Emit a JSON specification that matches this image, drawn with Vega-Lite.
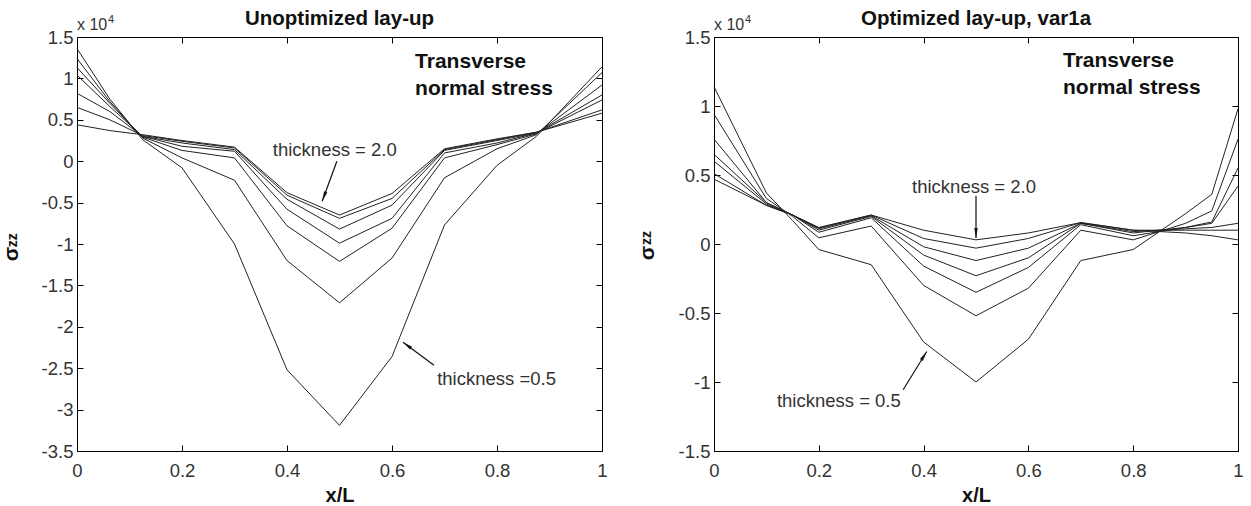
{
  "$schema": "https://vega.github.io/schema/vega-lite/v6.json",
  "autosize": {"type": "pad"},
  "padding": {"left": 0, "top": 8, "right": 0, "bottom": 0},
  "bounds": "flush",
  "spacing": 112,
  "background": "white",
  "config": {
    "view": {"stroke": "#000", "strokeWidth": 1},
    "axis": {"grid": false, "domainColor": "#000", "tickColor": "#000", "labelFont": "Liberation Sans", "labelFontSize": 18.5, "labelColor": "#333", "tickSize": -6, "labelPadding": 16, "titleFont": "Liberation Sans", "titleFontSize": 20, "titleFontWeight": "bold", "titleColor": "#111", "labelFlush": false, "labelOverlap": false},
    "title": {"font": "Liberation Sans", "fontSize": 20.5, "fontWeight": "bold", "color": "#111", "anchor": "middle", "offset": -15}
  },
  "datasets": {
    "unopt": [
      {"t":0.5,"x":0,"s":1.36},{"t":0.5,"x":0.0625,"s":0.75},{"t":0.5,"x":0.125,"s":0.26},{"t":0.5,"x":0.2,"s":-0.08},{"t":0.5,"x":0.3,"s":-1.0},{"t":0.5,"x":0.4,"s":-2.52},{"t":0.5,"x":0.5,"s":-3.19},{"t":0.5,"x":0.6,"s":-2.36},{"t":0.5,"x":0.7,"s":-0.77},{"t":0.5,"x":0.8,"s":-0.05},{"t":0.5,"x":0.875,"s":0.3},{"t":0.5,"x":1,"s":1.14},
      {"t":0.75,"x":0,"s":1.24},{"t":0.75,"x":0.0625,"s":0.72},{"t":0.75,"x":0.125,"s":0.28},{"t":0.75,"x":0.2,"s":0.04},{"t":0.75,"x":0.3,"s":-0.23},{"t":0.75,"x":0.4,"s":-1.2},{"t":0.75,"x":0.5,"s":-1.71},{"t":0.75,"x":0.6,"s":-1.17},{"t":0.75,"x":0.7,"s":-0.2},{"t":0.75,"x":0.8,"s":0.15},{"t":0.75,"x":0.875,"s":0.32},{"t":0.75,"x":1,"s":1.07},
      {"t":1.0,"x":0,"s":1.13},{"t":1.0,"x":0.0625,"s":0.7},{"t":1.0,"x":0.125,"s":0.29},{"t":1.0,"x":0.2,"s":0.13},{"t":1.0,"x":0.3,"s":0.04},{"t":1.0,"x":0.4,"s":-0.78},{"t":1.0,"x":0.5,"s":-1.21},{"t":1.0,"x":0.6,"s":-0.81},{"t":1.0,"x":0.7,"s":0.04},{"t":1.0,"x":0.8,"s":0.2},{"t":1.0,"x":0.875,"s":0.33},{"t":1.0,"x":1,"s":0.92},
      {"t":1.25,"x":0,"s":1.04},{"t":1.25,"x":0.0625,"s":0.66},{"t":1.25,"x":0.125,"s":0.3},{"t":1.25,"x":0.2,"s":0.18},{"t":1.25,"x":0.3,"s":0.12},{"t":1.25,"x":0.4,"s":-0.58},{"t":1.25,"x":0.5,"s":-0.99},{"t":1.25,"x":0.6,"s":-0.69},{"t":1.25,"x":0.7,"s":0.1},{"t":1.25,"x":0.8,"s":0.22},{"t":1.25,"x":0.875,"s":0.34},{"t":1.25,"x":1,"s":0.8},
      {"t":1.5,"x":0,"s":0.82},{"t":1.5,"x":0.0625,"s":0.6},{"t":1.5,"x":0.125,"s":0.3},{"t":1.5,"x":0.2,"s":0.22},{"t":1.5,"x":0.3,"s":0.14},{"t":1.5,"x":0.4,"s":-0.46},{"t":1.5,"x":0.5,"s":-0.82},{"t":1.5,"x":0.6,"s":-0.53},{"t":1.5,"x":0.7,"s":0.13},{"t":1.5,"x":0.8,"s":0.25},{"t":1.5,"x":0.875,"s":0.34},{"t":1.5,"x":1,"s":0.74},
      {"t":1.75,"x":0,"s":0.65},{"t":1.75,"x":0.0625,"s":0.5},{"t":1.75,"x":0.125,"s":0.31},{"t":1.75,"x":0.2,"s":0.24},{"t":1.75,"x":0.3,"s":0.16},{"t":1.75,"x":0.4,"s":-0.41},{"t":1.75,"x":0.5,"s":-0.69},{"t":1.75,"x":0.6,"s":-0.45},{"t":1.75,"x":0.7,"s":0.14},{"t":1.75,"x":0.8,"s":0.26},{"t":1.75,"x":0.875,"s":0.35},{"t":1.75,"x":1,"s":0.62},
      {"t":2.0,"x":0,"s":0.44},{"t":2.0,"x":0.0625,"s":0.37},{"t":2.0,"x":0.125,"s":0.32},{"t":2.0,"x":0.2,"s":0.25},{"t":2.0,"x":0.3,"s":0.17},{"t":2.0,"x":0.4,"s":-0.38},{"t":2.0,"x":0.5,"s":-0.65},{"t":2.0,"x":0.6,"s":-0.39},{"t":2.0,"x":0.7,"s":0.15},{"t":2.0,"x":0.8,"s":0.27},{"t":2.0,"x":0.875,"s":0.35},{"t":2.0,"x":1,"s":0.58}
    ],
    "opt": [
      {"t":0.5,"x":0,"s":1.14},{"t":0.5,"x":0.1,"s":0.37},{"t":0.5,"x":0.15,"s":0.17},{"t":0.5,"x":0.2,"s":-0.04},{"t":0.5,"x":0.3,"s":-0.15},{"t":0.5,"x":0.4,"s":-0.71},{"t":0.5,"x":0.5,"s":-1.0},{"t":0.5,"x":0.6,"s":-0.69},{"t":0.5,"x":0.7,"s":-0.12},{"t":0.5,"x":0.8,"s":-0.04},{"t":0.5,"x":0.9,"s":0.22},{"t":0.5,"x":0.95,"s":0.36},{"t":0.5,"x":1,"s":0.98},
      {"t":0.75,"x":0,"s":0.94},{"t":0.75,"x":0.1,"s":0.33},{"t":0.75,"x":0.15,"s":0.2},{"t":0.75,"x":0.2,"s":0.045},{"t":0.75,"x":0.3,"s":0.13},{"t":0.75,"x":0.4,"s":-0.3},{"t":0.75,"x":0.5,"s":-0.52},{"t":0.75,"x":0.6,"s":-0.32},{"t":0.75,"x":0.7,"s":0.1},{"t":0.75,"x":0.8,"s":0.03},{"t":0.75,"x":0.9,"s":0.15},{"t":0.75,"x":0.95,"s":0.24},{"t":0.75,"x":1,"s":0.76},
      {"t":1.0,"x":0,"s":0.76},{"t":1.0,"x":0.1,"s":0.3},{"t":1.0,"x":0.15,"s":0.21},{"t":1.0,"x":0.2,"s":0.085},{"t":1.0,"x":0.3,"s":0.19},{"t":1.0,"x":0.4,"s":-0.16},{"t":1.0,"x":0.5,"s":-0.35},{"t":1.0,"x":0.6,"s":-0.17},{"t":1.0,"x":0.7,"s":0.14},{"t":1.0,"x":0.8,"s":0.06},{"t":1.0,"x":0.9,"s":0.12},{"t":1.0,"x":0.95,"s":0.16},{"t":1.0,"x":1,"s":0.55},
      {"t":1.25,"x":0,"s":0.65},{"t":1.25,"x":0.1,"s":0.3},{"t":1.25,"x":0.15,"s":0.21},{"t":1.25,"x":0.2,"s":0.1},{"t":1.25,"x":0.3,"s":0.2},{"t":1.25,"x":0.4,"s":-0.08},{"t":1.25,"x":0.5,"s":-0.23},{"t":1.25,"x":0.6,"s":-0.1},{"t":1.25,"x":0.7,"s":0.15},{"t":1.25,"x":0.8,"s":0.08},{"t":1.25,"x":0.9,"s":0.12},{"t":1.25,"x":0.95,"s":0.15},{"t":1.25,"x":1,"s":0.42},
      {"t":1.5,"x":0,"s":0.6},{"t":1.5,"x":0.1,"s":0.29},{"t":1.5,"x":0.15,"s":0.21},{"t":1.5,"x":0.2,"s":0.11},{"t":1.5,"x":0.3,"s":0.205},{"t":1.5,"x":0.4,"s":-0.02},{"t":1.5,"x":0.5,"s":-0.12},{"t":1.5,"x":0.6,"s":-0.03},{"t":1.5,"x":0.7,"s":0.15},{"t":1.5,"x":0.8,"s":0.09},{"t":1.5,"x":0.9,"s":0.11},{"t":1.5,"x":0.95,"s":0.12},{"t":1.5,"x":1,"s":0.15},
      {"t":1.75,"x":0,"s":0.51},{"t":1.75,"x":0.1,"s":0.28},{"t":1.75,"x":0.15,"s":0.21},{"t":1.75,"x":0.2,"s":0.115},{"t":1.75,"x":0.3,"s":0.21},{"t":1.75,"x":0.4,"s":0.04},{"t":1.75,"x":0.5,"s":-0.03},{"t":1.75,"x":0.6,"s":0.04},{"t":1.75,"x":0.7,"s":0.155},{"t":1.75,"x":0.8,"s":0.1},{"t":1.75,"x":0.9,"s":0.1},{"t":1.75,"x":0.95,"s":0.1},{"t":1.75,"x":1,"s":0.1},
      {"t":2.0,"x":0,"s":0.47},{"t":2.0,"x":0.1,"s":0.28},{"t":2.0,"x":0.15,"s":0.21},{"t":2.0,"x":0.2,"s":0.12},{"t":2.0,"x":0.3,"s":0.21},{"t":2.0,"x":0.4,"s":0.1},{"t":2.0,"x":0.5,"s":0.03},{"t":2.0,"x":0.6,"s":0.08},{"t":2.0,"x":0.7,"s":0.155},{"t":2.0,"x":0.8,"s":0.1},{"t":2.0,"x":0.9,"s":0.08},{"t":2.0,"x":0.95,"s":0.06},{"t":2.0,"x":1,"s":0.03}
    ],
    "notes": [
      {"panel":"L","kind":"heading","text":"Transverse\nnormal stress","x":0.644,"y":1.123},
      {"panel":"L","kind":"thick","text":"thickness = 2.0","x":0.373,"y":0.06},
      {"panel":"L","kind":"thick","text":"thickness =0.5","x":0.686,"y":-2.705},
      {"panel":"L","kind":"exp","text":"x 10","x":0,"y":1.5},
      {"panel":"L","kind":"sup","text":"4","x":0.059,"y":1.5},
      {"panel":"L","kind":"sigma","text":"σ","x":-0.124,"y":-1.123},
      {"panel":"L","kind":"sub","text":"zz","x":-0.122,"y":-0.954},
      {"panel":"R","kind":"heading","text":"Transverse\nnormal stress","x":0.666,"y":1.28},
      {"panel":"R","kind":"thick","text":"thickness = 2.0","x":0.378,"y":0.371},
      {"panel":"R","kind":"thick","text":"thickness = 0.5","x":0.12,"y":-1.18},
      {"panel":"R","kind":"exp","text":"x 10","x":0,"y":1.5},
      {"panel":"R","kind":"sup","text":"4","x":0.059,"y":1.5},
      {"panel":"R","kind":"sigma","text":"σ","x":-0.126,"y":-0.066},
      {"panel":"R","kind":"sub","text":"zz","x":-0.128,"y":0.044}
    ],
    "arrows": [
      {"panel":"L","arrow":"a2","end":0,"x":0.495,"y":0.0},
      {"panel":"L","arrow":"a2","end":1,"x":0.467,"y":-0.483},
      {"panel":"L","arrow":"a05","end":0,"x":0.68,"y":-2.464},
      {"panel":"L","arrow":"a05","end":1,"x":0.621,"y":-2.186},
      {"panel":"R","arrow":"a2","end":0,"x":0.5,"y":0.35},
      {"panel":"R","arrow":"a2","end":1,"x":0.5,"y":0.044},
      {"panel":"R","arrow":"a05","end":0,"x":0.361,"y":-1.056},
      {"panel":"R","arrow":"a05","end":1,"x":0.406,"y":-0.779}
    ]
  },
  "hconcat": [
    {
      "width": 525,
      "height": 414,
      "title": {"text": "Unoptimized lay-up"},
      "resolve": {"axis": {"x": "independent", "y": "independent"}},
      "layer": [
        {
          "data": {"name": "unopt"},
          "mark": {"type": "line", "stroke": "#222", "strokeWidth": 1},
          "encoding": {
            "x": {"field": "x", "type": "quantitative", "scale": {"domain": [0, 1], "nice": false, "zero": false},
                  "axis": {"orient": "bottom", "values": [0, 0.2, 0.4, 0.6, 0.8, 1], "labelExpr": "format(datum.value, '')", "title": "x/L", "titlePadding": 6}},
            "y": {"field": "s", "type": "quantitative", "scale": {"domain": [-3.5, 1.5], "nice": false, "zero": false},
                  "axis": {"orient": "left", "values": [-3.5, -3, -2.5, -2, -1.5, -1, -0.5, 0, 0.5, 1, 1.5], "labelExpr": "datum.value < 0 ? '-' + format(-datum.value, '') : format(datum.value, '')", "title": null, "labelPadding": 10}},
            "detail": {"field": "t", "type": "nominal"}
          }
        },
        {
          "data": {"name": "unopt"},
          "mark": {"type": "line", "opacity": 0},
          "encoding": {
            "x": {"field": "x", "type": "quantitative", "axis": {"orient": "top", "values": [0, 0.2, 0.4, 0.6, 0.8, 1], "labels": false, "title": null}},
            "y": {"field": "s", "type": "quantitative", "axis": {"orient": "right", "values": [-3.5, -3, -2.5, -2, -1.5, -1, -0.5, 0, 0.5, 1, 1.5], "labels": false, "title": null}},
            "detail": {"field": "t", "type": "nominal"}
          }
        },
        {
          "data": {"name": "arrows"},
          "transform": [{"filter": "datum.panel == 'L'"}],
          "mark": {"type": "line", "stroke": "#111", "strokeWidth": 1.2},
          "encoding": {
            "x": {"field": "x", "type": "quantitative", "axis": null},
            "y": {"field": "y", "type": "quantitative", "axis": null},
            "detail": {"field": "arrow", "type": "nominal"},
            "order": {"field": "end", "type": "quantitative"}
          }
        },
        {
          "data": {"name": "arrows"},
          "transform": [{"filter": "datum.panel == 'L' && datum.arrow == 'a2' && datum.end == 1"}],
          "mark": {"type": "point", "shape": "M-0.35,-2L0.35,-2L0,0Z", "filled": true, "fill": "#111", "strokeWidth": 0, "size": 100, "angle": 20.6, "opacity": 1},
          "encoding": {"x": {"field": "x", "type": "quantitative", "axis": null}, "y": {"field": "y", "type": "quantitative", "axis": null}}
        },
        {
          "data": {"name": "arrows"},
          "transform": [{"filter": "datum.panel == 'L' && datum.arrow == 'a05' && datum.end == 1"}],
          "mark": {"type": "point", "shape": "M-0.35,-2L0.35,-2L0,0Z", "filled": true, "fill": "#111", "strokeWidth": 0, "size": 100, "angle": 126.4, "opacity": 1},
          "encoding": {"x": {"field": "x", "type": "quantitative", "axis": null}, "y": {"field": "y", "type": "quantitative", "axis": null}}
        },
        {
          "data": {"name": "notes"},
          "transform": [{"filter": "datum.panel == 'L' && datum.kind == 'heading'"}],
          "mark": {"type": "text", "font": "Liberation Sans", "fontSize": 21, "fontWeight": "bold", "align": "left", "baseline": "alphabetic", "lineBreak": "\n", "lineHeight": 27, "color": "#111"},
          "encoding": {"x": {"field": "x", "type": "quantitative", "axis": null}, "y": {"field": "y", "type": "quantitative", "axis": null}, "text": {"field": "text"}}
        },
        {
          "data": {"name": "notes"},
          "transform": [{"filter": "datum.panel == 'L' && datum.kind == 'thick'"}],
          "mark": {"type": "text", "font": "Liberation Sans", "fontSize": 18.5, "align": "left", "baseline": "alphabetic", "color": "#333"},
          "encoding": {"x": {"field": "x", "type": "quantitative", "axis": null}, "y": {"field": "y", "type": "quantitative", "axis": null}, "text": {"field": "text"}}
        },
        {
          "data": {"name": "notes"},
          "transform": [{"filter": "datum.panel == 'L' && datum.kind == 'exp'"}],
          "mark": {"type": "text", "font": "Liberation Sans", "fontSize": 16, "align": "left", "baseline": "alphabetic", "color": "#333", "dy": -7},
          "encoding": {"x": {"field": "x", "type": "quantitative", "axis": null}, "y": {"field": "y", "type": "quantitative", "axis": null}, "text": {"field": "text"}}
        },
        {
          "data": {"name": "notes"},
          "transform": [{"filter": "datum.panel == 'L' && datum.kind == 'sup'"}],
          "mark": {"type": "text", "font": "Liberation Sans", "fontSize": 11, "align": "left", "baseline": "alphabetic", "color": "#333", "dy": -14},
          "encoding": {"x": {"field": "x", "type": "quantitative", "axis": null}, "y": {"field": "y", "type": "quantitative", "axis": null}, "text": {"field": "text"}}
        },
        {
          "data": {"name": "notes"},
          "transform": [{"filter": "datum.panel == 'L' && datum.kind == 'sigma'"}],
          "mark": {"type": "text", "font": "Liberation Sans", "fontSize": 21, "fontWeight": "bold", "align": "center", "baseline": "middle", "angle": 270, "color": "#111"},
          "encoding": {"x": {"field": "x", "type": "quantitative", "axis": null}, "y": {"field": "y", "type": "quantitative", "axis": null}, "text": {"field": "text"}}
        },
        {
          "data": {"name": "notes"},
          "transform": [{"filter": "datum.panel == 'L' && datum.kind == 'sub'"}],
          "mark": {"type": "text", "font": "Liberation Sans", "fontSize": 14, "fontWeight": "bold", "align": "center", "baseline": "middle", "angle": 270, "color": "#111"},
          "encoding": {"x": {"field": "x", "type": "quantitative", "axis": null}, "y": {"field": "y", "type": "quantitative", "axis": null}, "text": {"field": "text"}}
        }
      ]
    },
    {
      "width": 524,
      "height": 414,
      "title": {"text": "Optimized lay-up, var1a"},
      "resolve": {"axis": {"x": "independent", "y": "independent"}},
      "layer": [
        {
          "data": {"name": "opt"},
          "mark": {"type": "line", "stroke": "#222", "strokeWidth": 1},
          "encoding": {
            "x": {"field": "x", "type": "quantitative", "scale": {"domain": [0, 1], "nice": false, "zero": false},
                  "axis": {"orient": "bottom", "values": [0, 0.2, 0.4, 0.6, 0.8, 1], "labelExpr": "format(datum.value, '')", "title": "x/L", "titlePadding": 6}},
            "y": {"field": "s", "type": "quantitative", "scale": {"domain": [-1.5, 1.5], "nice": false, "zero": false},
                  "axis": {"orient": "left", "values": [-1.5, -1, -0.5, 0, 0.5, 1, 1.5], "labelExpr": "datum.value < 0 ? '-' + format(-datum.value, '') : format(datum.value, '')", "title": null, "labelPadding": 10}},
            "detail": {"field": "t", "type": "nominal"}
          }
        },
        {
          "data": {"name": "opt"},
          "mark": {"type": "line", "opacity": 0},
          "encoding": {
            "x": {"field": "x", "type": "quantitative", "axis": {"orient": "top", "values": [0, 0.2, 0.4, 0.6, 0.8, 1], "labels": false, "title": null}},
            "y": {"field": "s", "type": "quantitative", "axis": {"orient": "right", "values": [-1.5, -1, -0.5, 0, 0.5, 1, 1.5], "labels": false, "title": null}},
            "detail": {"field": "t", "type": "nominal"}
          }
        },
        {
          "data": {"name": "arrows"},
          "transform": [{"filter": "datum.panel == 'R'"}],
          "mark": {"type": "line", "stroke": "#111", "strokeWidth": 1.2},
          "encoding": {
            "x": {"field": "x", "type": "quantitative", "axis": null},
            "y": {"field": "y", "type": "quantitative", "axis": null},
            "detail": {"field": "arrow", "type": "nominal"},
            "order": {"field": "end", "type": "quantitative"}
          }
        },
        {
          "data": {"name": "arrows"},
          "transform": [{"filter": "datum.panel == 'R' && datum.arrow == 'a2' && datum.end == 1"}],
          "mark": {"type": "point", "shape": "M-0.35,-2L0.35,-2L0,0Z", "filled": true, "fill": "#111", "strokeWidth": 0, "size": 100, "angle": 0, "opacity": 1},
          "encoding": {"x": {"field": "x", "type": "quantitative", "axis": null}, "y": {"field": "y", "type": "quantitative", "axis": null}}
        },
        {
          "data": {"name": "arrows"},
          "transform": [{"filter": "datum.panel == 'R' && datum.arrow == 'a05' && datum.end == 1"}],
          "mark": {"type": "point", "shape": "M-0.35,-2L0.35,-2L0,0Z", "filled": true, "fill": "#111", "strokeWidth": 0, "size": 100, "angle": 212.3, "opacity": 1},
          "encoding": {"x": {"field": "x", "type": "quantitative", "axis": null}, "y": {"field": "y", "type": "quantitative", "axis": null}}
        },
        {
          "data": {"name": "notes"},
          "transform": [{"filter": "datum.panel == 'R' && datum.kind == 'heading'"}],
          "mark": {"type": "text", "font": "Liberation Sans", "fontSize": 21, "fontWeight": "bold", "align": "left", "baseline": "alphabetic", "lineBreak": "\n", "lineHeight": 27, "color": "#111"},
          "encoding": {"x": {"field": "x", "type": "quantitative", "axis": null}, "y": {"field": "y", "type": "quantitative", "axis": null}, "text": {"field": "text"}}
        },
        {
          "data": {"name": "notes"},
          "transform": [{"filter": "datum.panel == 'R' && datum.kind == 'thick'"}],
          "mark": {"type": "text", "font": "Liberation Sans", "fontSize": 18.5, "align": "left", "baseline": "alphabetic", "color": "#333"},
          "encoding": {"x": {"field": "x", "type": "quantitative", "axis": null}, "y": {"field": "y", "type": "quantitative", "axis": null}, "text": {"field": "text"}}
        },
        {
          "data": {"name": "notes"},
          "transform": [{"filter": "datum.panel == 'R' && datum.kind == 'exp'"}],
          "mark": {"type": "text", "font": "Liberation Sans", "fontSize": 16, "align": "left", "baseline": "alphabetic", "color": "#333", "dy": -7},
          "encoding": {"x": {"field": "x", "type": "quantitative", "axis": null}, "y": {"field": "y", "type": "quantitative", "axis": null}, "text": {"field": "text"}}
        },
        {
          "data": {"name": "notes"},
          "transform": [{"filter": "datum.panel == 'R' && datum.kind == 'sup'"}],
          "mark": {"type": "text", "font": "Liberation Sans", "fontSize": 11, "align": "left", "baseline": "alphabetic", "color": "#333", "dy": -14},
          "encoding": {"x": {"field": "x", "type": "quantitative", "axis": null}, "y": {"field": "y", "type": "quantitative", "axis": null}, "text": {"field": "text"}}
        },
        {
          "data": {"name": "notes"},
          "transform": [{"filter": "datum.panel == 'R' && datum.kind == 'sigma'"}],
          "mark": {"type": "text", "font": "Liberation Sans", "fontSize": 21, "fontWeight": "bold", "align": "center", "baseline": "middle", "angle": 270, "color": "#111"},
          "encoding": {"x": {"field": "x", "type": "quantitative", "axis": null}, "y": {"field": "y", "type": "quantitative", "axis": null}, "text": {"field": "text"}}
        },
        {
          "data": {"name": "notes"},
          "transform": [{"filter": "datum.panel == 'R' && datum.kind == 'sub'"}],
          "mark": {"type": "text", "font": "Liberation Sans", "fontSize": 14, "fontWeight": "bold", "align": "center", "baseline": "middle", "angle": 270, "color": "#111"},
          "encoding": {"x": {"field": "x", "type": "quantitative", "axis": null}, "y": {"field": "y", "type": "quantitative", "axis": null}, "text": {"field": "text"}}
        }
      ]
    }
  ]
}
